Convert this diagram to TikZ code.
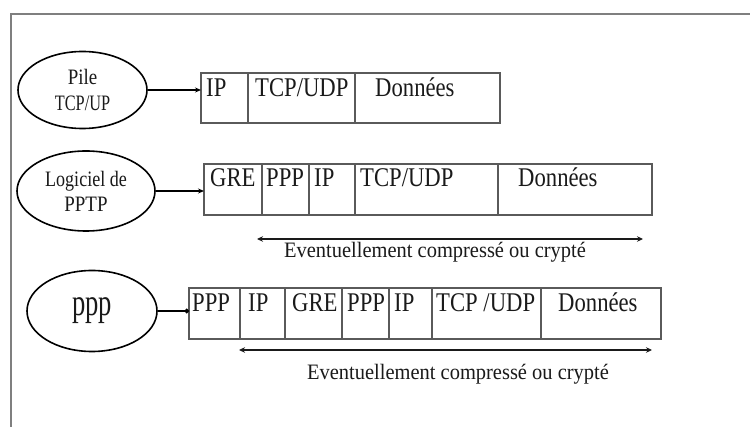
\documentclass[tikz,border=0pt]{standalone}
\usepackage{fontspec}
\setmainfont{Liberation Serif}
\usetikzlibrary{shapes.geometric,arrows.meta}
\newcommand{\cl}[1]{\scalebox{0.84}[1]{#1}}
\newcommand{\sx}[2]{\scalebox{#1}[1]{#2}}
\definecolor{boxgray}{HTML}{5A5A5A}
\definecolor{framegray}{HTML}{7F7F7F}
\definecolor{ink}{HTML}{1A1A1A}
\begin{document}
\begin{tikzpicture}[x=1pt,y=-1pt,
  cell/.style={draw=boxgray,line width=1.6pt,rectangle,inner sep=0pt,outer sep=0pt,anchor=north west},
  ctext/.style={inner sep=0pt,anchor=base west,text=ink,font=\fontsize{27}{27}\selectfont},
  ell/.style={draw=black,line width=1.6pt,ellipse,inner sep=0pt,align=center,text=ink},
  conn/.style={draw=black,line width=1.6pt,-{Stealth[length=6pt,width=5pt]}},
  dbl/.style={draw=ink,line width=2.6pt,{Stealth[length=6pt,width=5.5pt]}-{Stealth[length=6pt,width=5.5pt]}},
  note/.style={inner sep=0pt,anchor=base,text=ink,font=\fontsize{22}{22}\selectfont},
  frame/.style={draw=framegray,line width=2.6pt}]
\useasboundingbox (0,0) rectangle (750,427);
\fill[white] (0,0) rectangle (750,427);
% frame
\draw[frame] (760,14) -- (11,14) -- (11,440);

% ---------- row 1 ----------
\node[ell,minimum width=129pt,minimum height=77pt,font=\fontsize{22}{26}\selectfont] (e1) at (82.5,90) {\sx{0.86}{Pile}\\\sx{0.74}{TCP/UP}};
\node[cell,minimum width=47pt,minimum height=50pt] (b11) at (201,73) {};
\node[cell,minimum width=107pt,minimum height=50pt] (b12) at (248,73) {};
\node[cell,minimum width=145pt,minimum height=50pt] (b13) at (355,73) {};
\node[ctext] (t11) at (206,97) {\cl{IP}};
\node[ctext] (t12) at (255,97) {\cl{TCP/UDP}};
\node[ctext] (t13) at (375,97) {\cl{Données}};
\draw[conn] (e1.east) -- (b11.west |- e1.east);

% ---------- row 2 ----------
\node[ell,minimum width=138pt,minimum height=80pt,font=\fontsize{22}{25}\selectfont] (e2) at (86,191) {\sx{0.82}{Logiciel de}\\\sx{0.86}{PPTP}};
\node[cell,minimum width=58pt,minimum height=51pt] (b21) at (204,164) {};
\node[cell,minimum width=47pt,minimum height=51pt] (b22) at (262,164) {};
\node[cell,minimum width=46pt,minimum height=51pt] (b23) at (309,164) {};
\node[cell,minimum width=143pt,minimum height=51pt] (b24) at (355,164) {};
\node[cell,minimum width=154pt,minimum height=51pt] (b25) at (498,164) {};
\node[ctext] (t21) at (210,187) {\cl{GRE}};
\node[ctext] (t22) at (266,187) {\cl{PPP}};
\node[ctext] (t23) at (314,187) {\cl{IP}};
\node[ctext] (t24) at (360,187) {\cl{TCP/UDP}};
\node[ctext] (t25) at (518,187) {\cl{Données}};
\draw[conn] (e2.east) -- (b21.west |- e2.east);
\coordinate (a2l) at (257,239);
\coordinate (a2r) at (643,239);
\draw[dbl] (a2l) -- (a2r);
\node[note] (n2) at (435,258) {\sx{0.93}{Eventuellement compressé ou crypté}};

% ---------- row 3 ----------
\node[ell,minimum width=130pt,minimum height=81pt,font=\fontsize{38}{38}\selectfont] (e3) at (92,311) {\sx{0.7}{ppp}};
\node[cell,minimum width=51pt,minimum height=51pt] (b31) at (189,288) {};
\node[cell,minimum width=45pt,minimum height=51pt] (b32) at (240,288) {};
\node[cell,minimum width=57pt,minimum height=51pt] (b33) at (285,288) {};
\node[cell,minimum width=47pt,minimum height=51pt] (b34) at (342,288) {};
\node[cell,minimum width=43pt,minimum height=51pt] (b35) at (389,288) {};
\node[cell,minimum width=109pt,minimum height=51pt] (b36) at (432,288) {};
\node[cell,minimum width=120pt,minimum height=51pt] (b37) at (541,288) {};
\node[ctext] (t31) at (192,312) {\cl{PPP}};
\node[ctext] (t32) at (248,312) {\cl{IP}};
\node[ctext] (t33) at (292,312) {\cl{GRE}};
\node[ctext] (t34) at (347,312) {\cl{PPP}};
\node[ctext] (t35) at (394,312) {\cl{IP}};
\node[ctext] (t36) at (436,312) {\cl{TCP /UDP}};
\node[ctext] (t37) at (558,312) {\cl{Données}};
\draw[draw=black,line width=1.6pt,-{Circle[length=4.5pt]}] (e3.east) -- (b31.west |- e3.east);
\coordinate (a3l) at (239,350);
\coordinate (a3r) at (652,350);
\draw[dbl] (a3l) -- (a3r);
\node[note] (n3) at (458,380) {\sx{0.93}{Eventuellement compressé ou crypté}};
\end{tikzpicture}
\end{document}
